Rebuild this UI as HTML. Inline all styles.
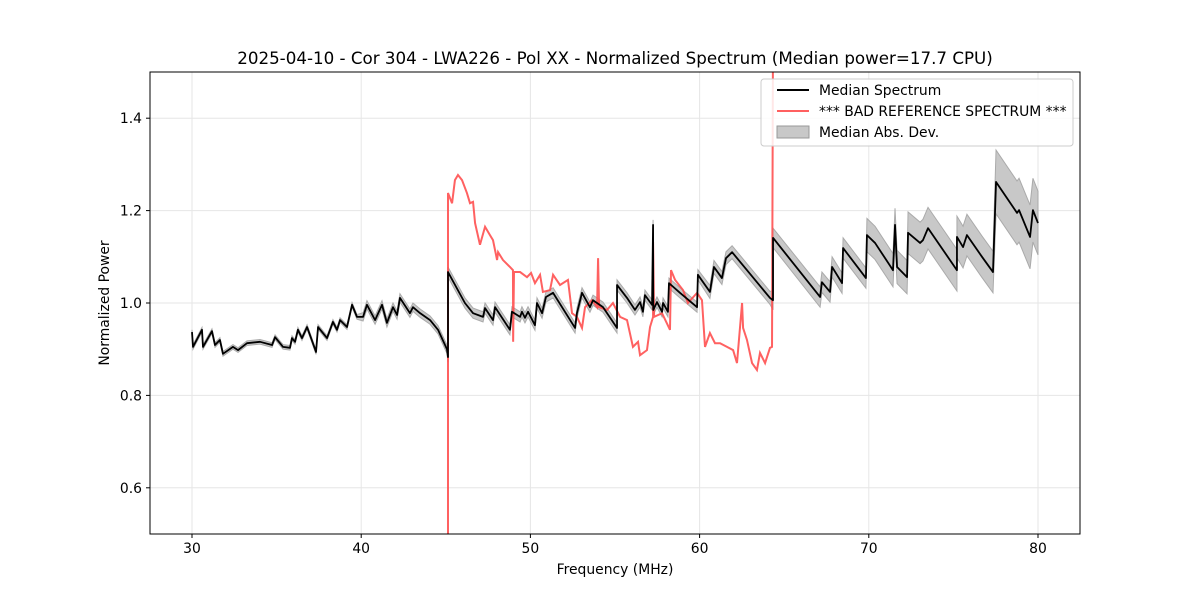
<!DOCTYPE html>
<html><head><meta charset="utf-8"><style>
body{margin:0;background:#fff;font-family:"Liberation Sans","DejaVu Sans",sans-serif}
svg text{font-family:"DejaVu Sans","Liberation Sans",sans-serif}
</style></head><body>
<svg id="chart" width="1200" height="600" xmlns="http://www.w3.org/2000/svg">
<defs><clipPath id="clip"><rect x="150" y="72" width="930" height="462"/></clipPath></defs>
<rect width="1200" height="600" fill="#fff"/>
<g id="grid"></g>
<g id="plot" clip-path="url(#clip)"></g>
<rect x="150" y="72" width="930" height="462" fill="none" stroke="#000" stroke-width="1"/>
<g id="ticks"></g>
<text x="615" y="64" text-anchor="middle" font-size="16.7">2025-04-10 - Cor 304 - LWA226 - Pol XX - Normalized Spectrum (Median power=17.7 CPU)</text>
<text x="615" y="574" text-anchor="middle" font-size="13.9">Frequency (MHz)</text>
<text transform="translate(109,303) rotate(-90)" text-anchor="middle" font-size="13.9">Normalized Power</text>
<g>
<rect x="761" y="79" width="312" height="67" rx="3" fill="#fff" fill-opacity="0.85" stroke="#ccc"/>
<g><line x1="777" y1="90" x2="809" y2="90" stroke="#000" stroke-width="2"/><text x="819" y="95" font-size="13.9">Median Spectrum</text></g>
<g><line x1="777" y1="111" x2="809" y2="111" stroke="#ff6060" stroke-width="2"/><text x="819" y="116" font-size="13.9">*** BAD REFERENCE SPECTRUM ***</text></g>
<g><rect x="777" y="126" width="32" height="12" fill="#c8c8c8" stroke="#999"/><text x="819" y="137" font-size="13.9">Median Abs. Dev.</text></g>
</g>
</svg>
<script>
const xTicks=[30,40,50,60,70,80];
const yTicks=[0.6,0.8,1.0,1.2,1.4];
const yTickLabels=["0.6","0.8","1.0","1.2","1.4"];
const medFreq=[30.00,30.06,30.59,30.65,31.18,31.36,31.65,31.83,32.42,32.72,33.25,34.02,34.73,34.91,35.20,35.38,35.79,35.91,36.09,36.26,36.50,36.80,36.97,37.33,37.45,37.98,38.33,38.57,38.75,39.16,39.46,39.75,40.11,40.34,40.82,41.23,41.52,41.88,42.12,42.29,42.88,43.06,43.48,44.07,44.54,45.07,45.13,45.13,46.13,46.61,47.20,47.32,47.79,47.91,48.79,48.91,49.39,49.50,49.68,49.86,50.27,50.39,50.69,50.92,51.34,52.64,52.75,53.05,53.52,53.70,54.29,55.12,55.12,55.71,56.18,56.48,56.65,56.77,57.19,57.25,57.26,57.48,57.78,57.84,58.13,58.19,58.84,59.85,59.90,60.61,60.85,61.32,61.56,61.92,64.16,64.34,64.34,67.12,67.23,67.71,67.83,68.42,68.48,69.83,69.89,70.37,71.43,71.55,71.67,72.26,72.32,73.03,73.20,73.50,75.21,75.21,75.57,75.80,76.69,77.34,77.52,78.76,78.88,79.53,79.70,80.00];
const medVal=[0.937,0.905,0.942,0.905,0.939,0.909,0.920,0.890,0.905,0.898,0.913,0.916,0.909,0.926,0.913,0.905,0.903,0.924,0.916,0.942,0.924,0.948,0.931,0.894,0.948,0.924,0.959,0.942,0.963,0.948,0.996,0.970,0.970,0.996,0.963,0.996,0.957,0.991,0.974,1.011,0.978,0.991,0.978,0.963,0.942,0.900,0.883,1.067,1.000,0.978,0.970,0.989,0.963,0.991,0.942,0.981,0.970,0.981,0.968,0.981,0.952,1.000,0.978,1.013,1.022,0.946,0.978,1.022,0.991,1.006,0.991,0.946,1.039,1.011,0.985,1.002,0.981,1.017,0.996,1.169,0.985,1.002,0.981,1.000,0.981,1.043,1.022,0.991,1.061,1.024,1.078,1.054,1.097,1.110,1.011,1.006,1.141,1.013,1.045,1.024,1.078,1.043,1.119,1.054,1.147,1.130,1.071,1.169,1.078,1.056,1.152,1.130,1.136,1.162,1.071,1.143,1.121,1.147,1.100,1.067,1.262,1.195,1.201,1.143,1.201,1.173];
const madFreq=[30,40,45.13,55,60,64.34,67,69.89,72.3,77.52];
const madVal=[0.005,0.009,0.011,0.011,0.014,0.021,0.022,0.036,0.045,0.069];
const refFreq=[45.13,45.13,45.37,45.54,45.72,45.96,46.25,46.43,46.61,46.73,47.02,47.32,47.61,47.79,48.03,48.09,48.38,48.79,48.97,48.98,49.03,49.39,49.80,50.04,50.27,50.57,50.74,51.16,51.34,51.75,52.22,52.46,52.75,53.05,53.23,53.64,53.94,54.00,54.06,54.53,54.88,55.30,55.71,56.06,56.36,56.48,56.89,57.07,57.25,57.25,57.31,57.78,58.25,58.31,58.55,59.02,59.31,59.85,60.14,60.32,60.61,60.91,61.21,61.62,61.98,62.21,62.39,62.51,62.57,62.80,63.10,63.39,63.57,63.87,64.16,64.28,64.34];
const refVal=[0.40,1.238,1.216,1.266,1.277,1.266,1.238,1.216,1.219,1.173,1.126,1.165,1.147,1.136,1.093,1.110,1.093,1.078,1.071,0.916,1.067,1.067,1.056,1.065,1.043,1.061,1.024,1.028,1.061,1.039,1.050,0.978,0.970,0.946,0.991,1.006,0.991,1.097,0.991,0.985,1.000,0.970,0.963,0.905,0.916,0.887,0.898,0.948,0.970,1.132,0.970,0.978,0.942,1.071,1.050,1.028,1.000,1.022,1.006,0.905,0.935,0.913,0.913,0.905,0.898,0.870,0.948,1.000,0.946,0.920,0.870,0.855,0.892,0.870,0.903,0.905,1.60];

const NS="http://www.w3.org/2000/svg";
const X=f=>192+(f-30)*16.92;
const Y=v=>534-(v-0.5)*462;
function mk(tag,attrs,parent){const e=document.createElementNS(NS,tag);for(const k in attrs)e.setAttribute(k,attrs[k]);parent.appendChild(e);return e;}
const grid=document.getElementById('grid'),plot=document.getElementById('plot'),ticks=document.getElementById('ticks');
xTicks.forEach(t=>{
 const g=mk('line',{x1:X(t),x2:X(t),y1:72,y2:534,stroke:'#e6e6e6','stroke-width':1},grid);
 
 
 mk('line',{x1:X(t),x2:X(t),y1:534,y2:538,stroke:'#000'},ticks);
 const tx=mk('text',{x:X(t),y:553,'text-anchor':'middle','font-size':13.9},ticks);tx.textContent=t;
 
 
});
yTicks.forEach((t,i)=>{
 const g=mk('line',{x1:150,x2:1080,y1:Y(t),y2:Y(t),stroke:'#e6e6e6','stroke-width':1},grid);
 
 
 mk('line',{x1:146,x2:150,y1:Y(t),y2:Y(t),stroke:'#000'},ticks);
 const tx=mk('text',{x:142,y:Y(t)+5,'text-anchor':'end','font-size':13.9},ticks);tx.textContent=yTickLabels[i];
 
 
});
function madAt(f){let m=madVal[0];for(let i=0;i<madFreq.length;i++)if(madFreq[i]<=f)m=madVal[i];return m;}
let up=[],dn=[];
medFreq.forEach((f,i)=>{const m=madAt(f);up.push(X(f)+','+Y(medVal[i]+m));dn.unshift(X(f)+','+Y(medVal[i]-m));});
const band=mk('polygon',{points:up.concat(dn).join(' '),fill:'#c8c8c8',stroke:'#aaa','stroke-width':1},plot);


const ref=mk('polyline',{points:refFreq.map((f,i)=>X(f)+','+Y(refVal[i])).join(' '),fill:'none',stroke:'#ff5050','stroke-opacity':0.9,'stroke-width':2},plot);


const med=mk('polyline',{points:medFreq.map((f,i)=>X(f)+','+Y(medVal[i])).join(' '),fill:'none',stroke:'#000','stroke-width':1.8,'stroke-linejoin':'round'},plot);


</script>
</body></html>
